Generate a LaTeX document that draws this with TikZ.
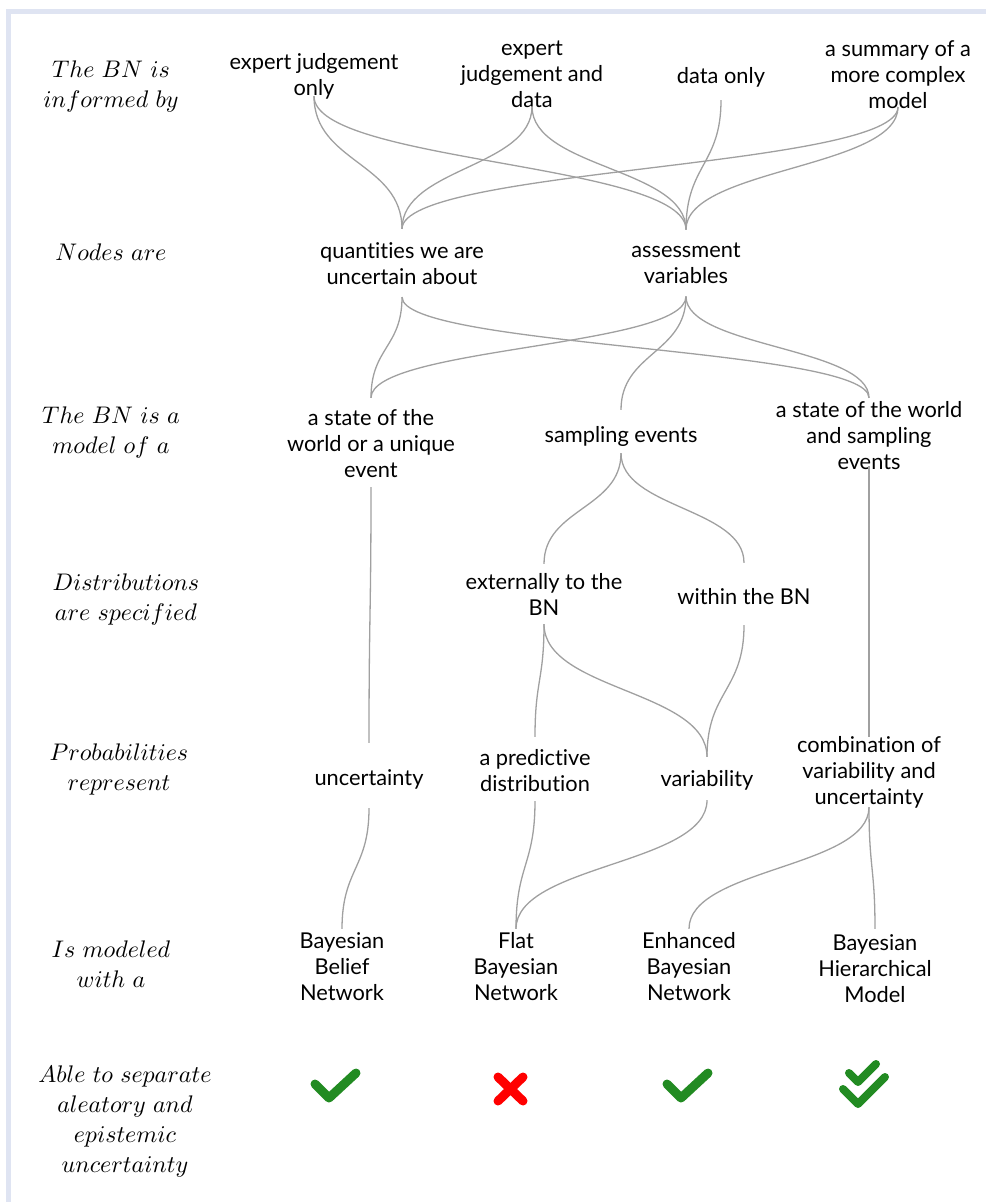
\documentclass[tikz,border=0pt]{standalone}
\usepackage{fontspec}
\DeclareFontFamily{OML}{cmm}{\skewchar\font127 }
\DeclareFontShape{OML}{cmm}{m}{it}{<->cmmi10}{}
\DeclareFontShape{OT1}{cmr}{m}{n}{<->cmr10}{}
\newfontfamily\lato[Ligatures=NoCommon]{Lato}
\usetikzlibrary{calc}
\definecolor{linkgray}{HTML}{A0A0A0}
\definecolor{framec}{HTML}{DFE4F2}
\definecolor{okgreen}{HTML}{228B22}
\definecolor{nored}{HTML}{FF0000}
\tikzset{
  txt/.style={align=center, inner sep=0pt, font=\lato\fontsize{21.8}{26}\selectfont,
    execute at begin node=\strut, execute at end node=\strut},
  rowlab/.style={align=center, inner sep=0pt, font=\fontsize{24}{30}\selectfont,
    execute at begin node=\strut, execute at end node=\strut},
  link/.style={draw=linkgray, line width=1.3pt},
  okmark/.style={draw=okgreen, line width=9pt, line cap=round, line join=round},
  nomark/.style={draw=nored, line width=9pt, line cap=round},
}
% connector from the bottom of #1 (shifted by #2) to the top of #3 (shifted by #4)
\newcommand{\lnk}[4]{\draw[link] let \p1=($(#1.south)+(0,#2-4)$), \p2=($(#3.north)+(0,#4-4)$),
  \p3=($(\p1)!0.5!(\p2)$) in (\p1) .. controls (\x1,\y3) and (\x2,\y3) .. (\p2);}
\begin{document}
\begin{tikzpicture}[x=1pt,y=-1pt]
\useasboundingbox (0,0) rectangle (986,1202);
\fill[framec] (6,9) rectangle (986,14);
\fill[framec] (6,9) rectangle (11,1202);

% row labels
\node[rowlab] (l1) at (111,89) {$The\ BN\ is$\\$informed\ by$};
\node[rowlab] (l2) at (111,254) {$Nodes\ are$};
\node[rowlab] (l3) at (111,435) {$The\ BN\ is\ a$\\$model\ of\ a$};
\node[rowlab] (l4) at (126,602) {$Distributions$\\$are\ specified$};
\node[rowlab] (l5) at (119,772) {$Probabilities$\\$represent$};
\node[rowlab] (l6) at (111,969) {$Is\ modeled$\\$with\ a$};
\node[rowlab] (l7) at (125,1124) {$Able\ to\ separate$\\$aleatory\ and$\\$epistemic$\\$uncertainty$};

% nodes
\node[txt] (only) at (314,78) {expert judgement\\only};
\node[txt] (jd) at (532,78) {expert\\judgement and\\data};
\node[txt] (data) at (721,78) {data only};
\node[txt] (summ) at (898,78) {a summary of a\\more complex\\model};
\node[txt] (quant) at (402,267.5) {quantities we are\\uncertain about};
\node[txt] (assess) at (686,267.5) {assessment\\variables};
\node[txt] (s1) at (371,447) {a state of the\\world or a unique\\event};
\node[txt] (samp) at (621,437) {sampling events};
\node[txt] (s3) at (869,439) {a state of the world\\and sampling\\events};
\node[txt] (ext) at (544,598) {externally to the\\BN};
\node[txt] (within) at (744,599) {within the BN};
\node[txt] (unc) at (369,780) {uncertainty};
\node[txt] (pred) at (535,774) {a predictive\\distribution};
\node[txt] (var) at (707,781) {variability};
\node[txt] (comb) at (869,774) {combination of\\variability and\\uncertainty};
\node[txt] (bbn) at (342,970) {Bayesian\\Belief\\Network};
\node[txt] (flat) at (516,970) {Flat\\Bayesian\\Network};
\node[txt] (ebn) at (689,970) {Enhanced\\Bayesian\\Network};
\node[txt] (bhm) at (875,972) {Bayesian\\Hierarchical\\Model};

% connectors row 1 -> 2
\lnk{only}{-3}{quant}{-9.5}
\lnk{only}{-3}{assess}{-9.5}
\lnk{jd}{-5}{quant}{-9.5}
\lnk{jd}{-5}{assess}{-9.5}
\lnk{data}{13}{assess}{-9.5}
\lnk{summ}{-5}{quant}{-9.5}
\lnk{summ}{-5}{assess}{-9.5}
% row 2 -> 3
\lnk{quant}{8.5}{s1}{-7}
\lnk{quant}{8.5}{s3}{1}
\lnk{assess}{8.5}{s1}{-7}
\lnk{assess}{8.5}{samp}{-10}
\lnk{assess}{8.5}{s3}{1}
% row 3 -> 4 / 5
\lnk{samp}{7}{ext}{-5}
\lnk{samp}{7}{within}{-19}
\lnk{s1}{6}{unc}{-20}
\lnk{s3}{-7}{comb}{5}
% row 4 -> 5
\lnk{ext}{5}{pred}{-8}
\lnk{ext}{5}{var}{-7}
\lnk{within}{17}{var}{-7}
% row 5 -> 6
\lnk{unc}{19}{bbn}{1}
\lnk{pred}{6}{flat}{1}
\lnk{var}{10}{flat}{1}
\lnk{comb}{-1}{ebn}{1}
\lnk{comb}{-1}{bhm}{-1}

% marks
\draw[okmark] (315,1084) -- (329,1098) -- (356,1073);
\draw[nomark] (498,1077) -- (523,1101);
\draw[nomark] (523,1077) -- (498,1101);
\draw[okmark] (667,1084) -- (681,1098) -- (708,1073);
\draw[okmark, line width=8pt] (849,1073) -- (858,1082) -- (876,1064);
\draw[okmark, line width=8pt] (843,1089) -- (858,1104) -- (885,1077);
\end{tikzpicture}
\end{document}
